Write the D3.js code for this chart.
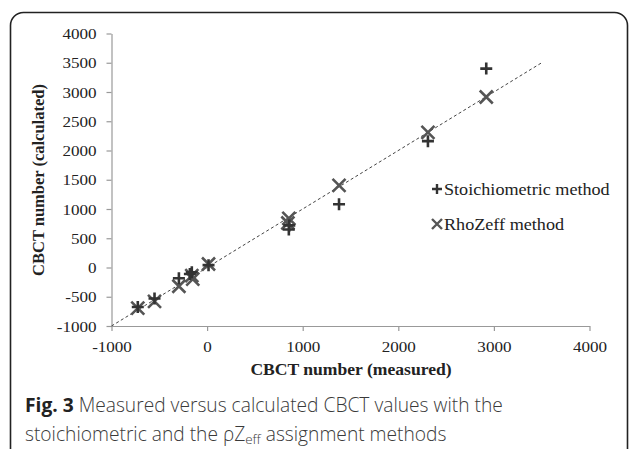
<!DOCTYPE html>
<html><head><meta charset="utf-8">
<script src="https://cdn.jsdelivr.net/npm/d3@7"></script>
<style>
html,body{margin:0;padding:0;background:#fff;}
svg{display:block;}
</style></head>
<body>
<svg id="chart" width="630" height="449"></svg>
<script>
// ---- data ----
const xTicks = [-1000, 0, 1000, 2000, 3000, 4000];
const yTicks = [-1000, -500, 0, 500, 1000, 1500, 2000, 2500, 3000, 3500, 4000];
const stoichX = [2920, 2310, 1380, 855, 860, 15, -160, -180, -295, -550, -725];
const stoichY = [3400, 2160, 1080, 650, 720, 40, -80, -110, -185, -530, -675];
const rhoX = [2920, 2310, 1380, 855, 845, 15, -160, -150, -295, -550, -725];
const rhoY = [2915, 2310, 1405, 840, 760, 60, -140, -200, -320, -580, -695];
const identityLine = [-1000, 3500];
const seriesNames = ["Stoichiometric method", "RhoZeff method"];
const xTitle = "CBCT number (measured)";
const yTitle = "CBCT number (calculated)";

const svg = d3.select("#chart");
const SX = 1.1; // horizontal stretch of the source image text

// frame
svg.append("rect").attr("x", 10.5).attr("y", 12.5).attr("width", 617).attr("height", 470)
  .attr("rx", 13).attr("fill", "none").attr("stroke", "#222").attr("stroke-width", 1.6);

const x = d3.scaleLinear().domain([-1000, 4000]).range([111.5, 589.5]);
const y = d3.scaleLinear().domain([-1000, 4000]).range([326, 33.5]);

function stretch(sel) {
  sel.each(function () {
    const t = d3.select(this);
    const tx = +t.attr("x") || 0, ty = +t.attr("y") || 0;
    t.attr("x", 0).attr("y", 0).attr("transform", `translate(${tx},${ty}) scale(${SX},1)`);
  });
}

// axes
const fmt = d => String(d);
const gx = svg.append("g").attr("transform", `translate(0,${y(-1000)})`)
  .call(d3.axisBottom(x).tickValues(xTicks).tickSize(5).tickSizeOuter(0).tickFormat(fmt));
const gy = svg.append("g").attr("transform", `translate(${x(-1000)},0)`)
  .call(d3.axisLeft(y).tickValues(yTicks).tickSize(5).tickSizeOuter(0).tickFormat(fmt));
[gx, gy].forEach(g => {
  g.select(".domain").attr("stroke", "#999").attr("stroke-width", 1.2);
  g.selectAll(".tick line").attr("stroke", "#999").attr("stroke-width", 1.2);
  g.selectAll(".tick text").attr("font-family", "'Liberation Serif', 'Times New Roman', serif")
    .attr("font-size", 15.5).attr("fill", "#222");
});
gx.selectAll(".tick text").attr("dy", null).attr("y", 26).call(stretch);
gy.selectAll(".tick text").attr("dy", null).attr("x", -15).attr("y", 5).call(stretch);

// identity line
svg.append("line")
  .attr("x1", x(identityLine[0])).attr("y1", y(identityLine[0]))
  .attr("x2", x(identityLine[1])).attr("y2", y(identityLine[1]))
  .attr("stroke", "#444").attr("stroke-width", 1).attr("stroke-dasharray", "3,2.5");

// markers
const plusPath = s => `M${-s},0H${s}M0,${-s}V${s}`;
const crossPath = s => `M${-s},${-s}L${s},${s}M${-s},${s}L${s},${-s}`;

svg.append("g").selectAll("path").data(rhoX.map((v, i) => [v, rhoY[i]])).join("path")
  .attr("transform", d => `translate(${x(d[0])},${y(d[1])})`)
  .attr("d", crossPath(6.5)).attr("stroke", "#555").attr("stroke-width", 2.6).attr("fill", "none");
svg.append("g").selectAll("path").data(stoichX.map((v, i) => [v, stoichY[i]])).join("path")
  .attr("transform", d => `translate(${x(d[0])},${y(d[1])})`)
  .attr("d", plusPath(6)).attr("stroke", "#333").attr("stroke-width", 2.6).attr("fill", "none");

// legend
const lg = svg.append("g");
lg.append("path").attr("transform", "translate(437,189)").attr("d", plusPath(5))
  .attr("stroke", "#333").attr("stroke-width", 2.4);
lg.append("path").attr("transform", "translate(437,224)").attr("d", crossPath(5))
  .attr("stroke", "#555").attr("stroke-width", 2.4);
lg.selectAll("text").data(seriesNames).join("text")
  .attr("x", 444).attr("y", (d, i) => 195 + i * 35)
  .attr("font-family", "'Liberation Serif', 'Times New Roman', serif").attr("font-size", 16.5)
  .attr("fill", "#222").text(d => d).call(stretch);

// axis titles
svg.append("text").attr("x", 351).attr("y", 375).attr("text-anchor", "middle")
  .attr("font-family", "'Liberation Serif', 'Times New Roman', serif").attr("font-weight", "bold")
  .attr("font-size", 16).attr("fill", "#222").text(xTitle).call(stretch);
svg.append("text").attr("transform", "translate(44,180) rotate(-90)").attr("text-anchor", "middle")
  .attr("font-family", "'Liberation Serif', 'Times New Roman', serif").attr("font-weight", "bold")
  .attr("font-size", 16.5).attr("fill", "#222").text(yTitle);

// caption
const cap = svg.append("g").attr("font-family", "'Open Sans', 'Noto Sans', sans-serif")
  .attr("font-size", 19.2).attr("font-weight", 300).attr("fill", "#3a3a3a");
const c1 = cap.append("text").attr("x", 25).attr("y", 412);
c1.append("tspan").attr("font-weight", "bold").attr("fill", "#222").text("Fig. 3");
c1.append("tspan").text(" Measured versus calculated CBCT values with the");
const c2 = cap.append("text").attr("x", 25).attr("y", 441);
c2.append("tspan").text("stoichiometric and the ρZ");
c2.append("tspan").attr("font-size", 13.5).attr("dy", 3).text("eff");
c2.append("tspan").attr("dy", -3).text(" assignment methods");
</script>
</body></html>
